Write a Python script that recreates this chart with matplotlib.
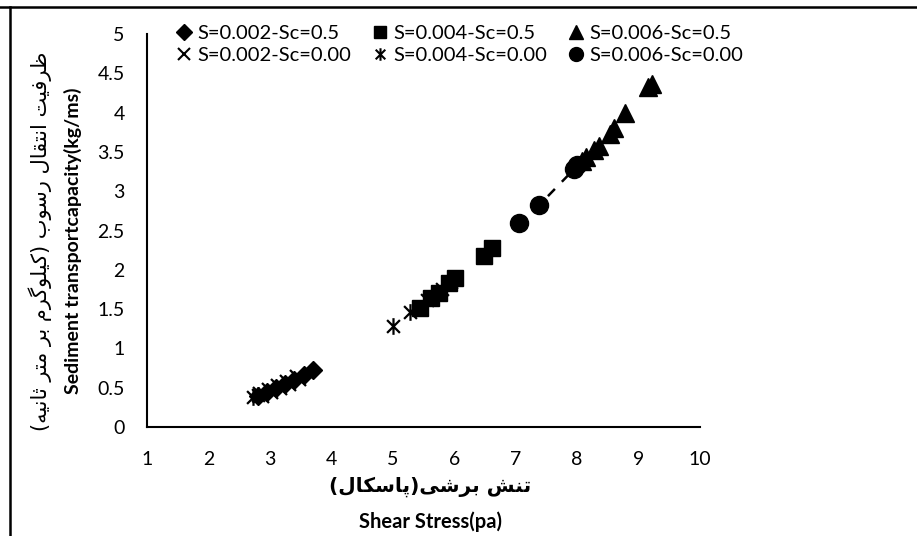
import matplotlib
matplotlib.use("Agg")
import matplotlib.pyplot as plt
from matplotlib.path import Path
from matplotlib.lines import Line2D

# =========================
# Data
# =========================
d_x = [2.80, 2.95, 3.10, 3.25, 3.40, 3.55, 3.70]          # S=0.002-Sc=0.5
d_y = [0.40, 0.45, 0.50, 0.55, 0.60, 0.66, 0.72]
sq_x = [5.45, 5.62, 5.75, 5.92, 6.02, 6.48, 6.62]         # S=0.004-Sc=0.5
sq_y = [1.52, 1.64, 1.70, 1.83, 1.90, 2.17, 2.28]
tr_x = [8.08, 8.15, 8.28, 8.35, 8.53, 8.60, 8.78, 9.15, 9.22]  # S=0.006-Sc=0.5
tr_y = [3.38, 3.44, 3.52, 3.58, 3.73, 3.80, 3.99, 4.33, 4.37]
xm_x = [2.85, 3.00, 3.15, 3.30, 3.45]                     # S=0.002-Sc=0.00
xm_y = [0.41, 0.46, 0.51, 0.56, 0.62]
st_x = [2.72, 2.80, 5.00, 5.28, 5.55, 5.80, 5.95]         # S=0.004-Sc=0.00
st_y = [0.38, 0.41, 1.28, 1.46, 1.62, 1.75, 1.84]
ci_x = [7.05, 7.38, 7.95, 8.00]                           # S=0.006-Sc=0.00
ci_y = [2.59, 2.82, 3.28, 3.33]

labels = ["S=0.002-Sc=0.5", "S=0.004-Sc=0.5", "S=0.006-Sc=0.5",
          "S=0.002-Sc=0.00", "S=0.004-Sc=0.00", "S=0.006-Sc=0.00"]
x_ticks = [1, 2, 3, 4, 5, 6, 7, 8, 9, 10]
y_ticks = [0, 0.5, 1, 1.5, 2, 2.5, 3, 3.5, 4, 4.5, 5]
y_tick_labels = ["0", "0.5", "1", "1.5", "2", "2.5", "3", "3.5", "4", "4.5", "5"]

ylabel_fa = "ظرفیت انتقال رسوب (کیلوگرم بر متر ثانیه)"
ylabel_en = "Sediment transportcapacity(kg/ms)"
xlabel_fa = "تنش برشی(پاسکال)"
xlabel_en = "Shear Stress(pa)"

# =========================
# Persian shaping (matplotlib has no bidi/shaping)
# =========================
FORMS = {
    "ا": ("\uFE8D", "\uFE8E"),
    "ب": ("\uFE8F", "\uFE90", "\uFE91", "\uFE92"),
    "پ": ("\uFB56", "\uFB57", "\uFB58", "\uFB59"),
    "ت": ("\uFE95", "\uFE96", "\uFE97", "\uFE98"),
    "ث": ("\uFE99", "\uFE9A", "\uFE9B", "\uFE9C"),
    "ر": ("\uFEAD", "\uFEAE"),
    "س": ("\uFEB1", "\uFEB2", "\uFEB3", "\uFEB4"),
    "ش": ("\uFEB5", "\uFEB6", "\uFEB7", "\uFEB8"),
    "ظ": ("\uFEC5", "\uFEC6", "\uFEC7", "\uFEC8"),
    "ف": ("\uFED1", "\uFED2", "\uFED3", "\uFED4"),
    "ق": ("\uFED5", "\uFED6", "\uFED7", "\uFED8"),
    "ک": ("\uFB8E", "\uFB8F", "\uFB90", "\uFB91"),
    "گ": ("\uFB92", "\uFB93", "\uFB94", "\uFB95"),
    "ل": ("\uFEDD", "\uFEDE", "\uFEDF", "\uFEE0"),
    "م": ("\uFEE1", "\uFEE2", "\uFEE3", "\uFEE4"),
    "ن": ("\uFEE5", "\uFEE6", "\uFEE7", "\uFEE8"),
    "ه": ("\uFEE9", "\uFEEA", "\uFEEB", "\uFEEC"),
    "و": ("\uFEED", "\uFEEE"),
    "ی": ("\uFBFC", "\uFBFD", "\uFBFE", "\uFBFF"),
}


def shape_fa(text):
    out = []
    for i, ch in enumerate(text):
        if ch not in FORMS:
            out.append(ch)
            continue
        f = FORMS[ch]
        prev = text[i - 1] if i > 0 else ""
        nxt = text[i + 1] if i + 1 < len(text) else ""
        join_prev = prev in FORMS and len(FORMS[prev]) == 4
        join_next = len(f) == 4 and nxt in FORMS
        if join_prev and join_next:
            out.append(f[3])
        elif join_prev:
            out.append(f[1])
        elif join_next:
            out.append(f[2])
        else:
            out.append(f[0])
    vis = "".join(reversed(out))
    return vis.translate(str.maketrans("()", ")("))


# star marker like Excel's (x with a vertical bar)
star = Path([(-1, -1), (1, 1), (-1, 1), (1, -1), (0, -1.3), (0, 1.3)],
            [Path.MOVETO, Path.LINETO, Path.MOVETO, Path.LINETO, Path.MOVETO, Path.LINETO])

plt.rcParams["font.family"] = ["Lato", "DejaVu Sans"]

fig = plt.figure(figsize=(9.17, 5.36), dpi=100)
ax = fig.add_axes([147 / 917, 1 - 427 / 536, 553 / 917, 393 / 536])

# dashed trend through the circles
ax.plot(ci_x, ci_y, color="black", lw=1.8, ls=(0, (4, 4)), zorder=1)

ax.plot(d_x, d_y, "D", color="black", ms=9, ls="none", zorder=3)
ax.plot(sq_x, sq_y, "s", color="black", ms=12, ls="none", zorder=3)
ax.plot(tr_x, tr_y, "^", color="black", ms=13, ls="none", zorder=3)
ax.plot(xm_x, xm_y, "x", color="black", ms=11, mew=1.6, ls="none", zorder=4)
ax.plot(st_x, st_y, marker=star, color="black", ms=12, mew=1.6, ls="none", zorder=4)
ax.plot(ci_x, ci_y, "o", color="black", ms=13, ls="none", zorder=3)

ax.set_xlim(1, 10)
ax.set_ylim(0, 5)
ax.set_xticks(x_ticks)
ax.set_xticklabels([str(t) for t in x_ticks])
ax.set_yticks(y_ticks)
ax.set_yticklabels(y_tick_labels)
ax.tick_params(axis="both", length=0, labelsize=14)
ax.tick_params(axis="x", pad=17)
ax.tick_params(axis="y", pad=16)
for s in ["top", "right"]:
    ax.spines[s].set_visible(False)
for s in ["left", "bottom"]:
    ax.spines[s].set_linewidth(1.5)

# legend (2 rows x 3 columns, filled column-wise)
h = [
    Line2D([], [], marker="D", color="black", ls="none", ms=8),
    Line2D([], [], marker="x", color="black", ls="none", ms=8, mew=1.5),
    Line2D([], [], marker="s", color="black", ls="none", ms=9),
    Line2D([], [], marker=star, color="black", ls="none", ms=9, mew=1.5),
    Line2D([], [], marker="^", color="black", ls="none", ms=10),
    Line2D([], [], marker="o", color="black", ls="none", ms=10),
]
lab = [labels[0], labels[3], labels[1], labels[4], labels[2], labels[5]]
fig.legend(h, lab, ncol=3, loc="upper left", bbox_to_anchor=(0.184, 0.968),
           frameon=False, fontsize=14.5, handlelength=0.7, handletextpad=0.3,
           columnspacing=1.1, labelspacing=0.25, borderaxespad=0)

# axis titles
fig.text(0.469, 0.091, shape_fa(xlabel_fa), ha="center", va="center",
         fontsize=14.5, fontweight="bold", family="DejaVu Sans")
fig.text(0.469, 0.026, xlabel_en, ha="center", va="center",
         fontsize=14.5, fontweight="bold")
fig.text(0.044, 0.55, shape_fa(ylabel_fa), ha="center", va="center",
         rotation=90, fontsize=15, family="DejaVu Sans")
fig.text(0.080, 0.55, ylabel_en, ha="center", va="center",
         rotation=90, fontsize=14, fontweight="bold")

# outer frame (top and left edges visible)
fig.add_artist(Line2D([0, 1], [1 - 7 / 536] * 2, color="black", lw=1.8,
                      transform=fig.transFigure))
fig.add_artist(Line2D([10 / 917] * 2, [0, 1 - 7 / 536], color="black", lw=1.8,
                      transform=fig.transFigure))

fig.savefig("out.png", dpi=100)
